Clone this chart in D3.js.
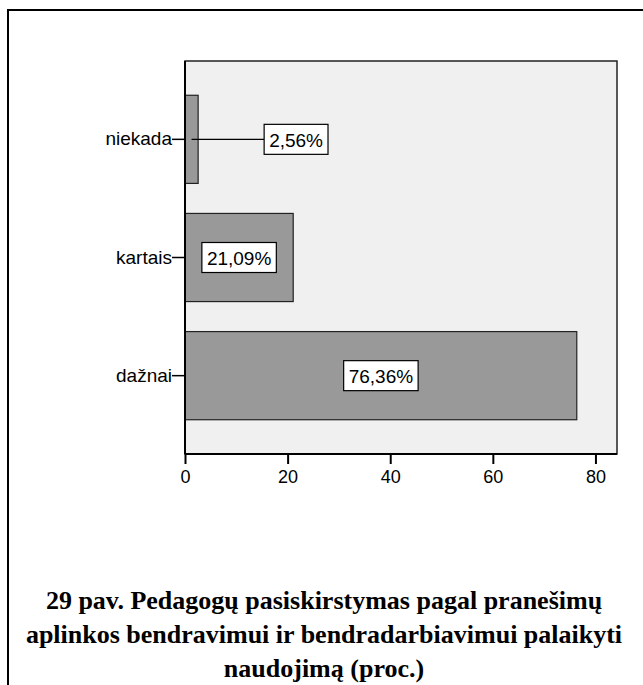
<!DOCTYPE html>
<html>
<head>
<meta charset="utf-8">
<script src="https://cdn.jsdelivr.net/npm/d3@7"></script>
<style>
  body { margin: 0; background: #fff; }
</style>
</head>
<body>
<div class="chart-container"></div>
<script>
// Duomenys
const categories = ['niekada', 'kartais', 'dažnai'];
const values = [2.56, 21.09, 76.36];
const labels = ['2,56%', '21,09%', '76,36%'];
const xTicks = [0, 20, 40, 60, 80];
const titleLines = [
  '29 pav. Pedagogų pasiskirstymas pagal pranešimų',
  'aplinkos bendravimui ir bendradarbiavimui palaikyti',
  'naudojimą (proc.)'
];

const width = 643;
const height = 685;
const plot = { left: 185, top: 61, right: 617, bottom: 454 };

const svg = d3.select('.chart-container')
  .append('svg')
  .attr('width', width)
  .attr('height', height)
  .attr('font-family', 'Liberation Sans, Arial, sans-serif');

// išorinis rėmelis (dešinė ir apačia už lango ribų)
svg.append('rect')
  .attr('x', 8).attr('y', 10)
  .attr('width', 700).attr('height', 700)
  .attr('fill', 'none')
  .attr('stroke', '#000')
  .attr('stroke-width', 2);

const x = d3.scaleLinear()
  .domain([0, 84.2])
  .range([plot.left, plot.right]);

const y = d3.scaleBand()
  .domain(categories)
  .range([plot.top, plot.bottom])
  .paddingInner(0.254)
  .paddingOuter(0.29);

// grafiko fonas
svg.append('rect')
  .attr('x', plot.left).attr('y', plot.top)
  .attr('width', plot.right - plot.left)
  .attr('height', plot.bottom - plot.top)
  .attr('fill', '#f0f0f0')
  .attr('stroke', '#222')
  .attr('stroke-width', 1.5);

const rows = categories.map((c, i) => ({ cat: c, value: values[i], label: labels[i] }));

// stulpeliai
svg.selectAll('rect.bar')
  .data(rows)
  .join('rect')
    .attr('class', 'bar')
    .attr('x', x(0))
    .attr('y', d => y(d.cat))
    .attr('width', d => x(d.value) - x(0))
    .attr('height', y.bandwidth())
    .attr('fill', '#999999')
    .attr('stroke', '#222')
    .attr('stroke-width', 1.2);

// ašys
const xAxis = svg.append('g')
  .attr('transform', `translate(0,${plot.bottom})`)
  .call(d3.axisBottom(x).tickValues(xTicks).tickSize(10).tickSizeOuter(0));
xAxis.select('.domain').remove();
xAxis.selectAll('line').attr('stroke', '#000').attr('stroke-width', 2);
xAxis.selectAll('text')
  .attr('font-size', '18px')
  .attr('font-family', 'Liberation Sans, Arial, sans-serif')
  .attr('fill', '#000')
  .attr('dy', '0.9em');

const yAxis = svg.append('g')
  .attr('transform', `translate(${plot.left},0)`)
  .call(d3.axisLeft(y).tickSize(13).tickSizeOuter(0));
yAxis.select('.domain').remove();
yAxis.selectAll('line').attr('stroke', '#000').attr('stroke-width', 1.5);
yAxis.selectAll('text')
  .attr('x', -13)
  .attr('font-size', '19px')
  .attr('font-family', 'Liberation Sans, Arial, sans-serif')
  .attr('fill', '#000');

// ašių linijos
svg.append('line')
  .attr('x1', plot.left).attr('x2', plot.right)
  .attr('y1', plot.bottom).attr('y2', plot.bottom)
  .attr('stroke', '#000').attr('stroke-width', 2);
svg.append('line')
  .attr('x1', plot.left).attr('x2', plot.left)
  .attr('y1', plot.top).attr('y2', plot.bottom)
  .attr('stroke', '#000').attr('stroke-width', 2);

// reikšmių etiketės
const lab = svg.selectAll('g.lab')
  .data(rows)
  .join('g')
    .attr('class', 'lab');

lab.each(function(d) {
  const g = d3.select(this);
  const cy = y(d.cat) + y.bandwidth() / 2;
  const barMid = (x(0) + x(d.value)) / 2;
  const inside = d.value > 10;
  const txt = g.append('text')
    .attr('font-size', '19px')
    .attr('dominant-baseline', 'central')
    .attr('text-anchor', 'middle')
    .text(d.label);
  const w = txt.node().getComputedTextLength() + 10;
  const cx = inside ? barMid : x(d.value) + 66 + w / 2;
  if (!inside) {
    g.insert('line', 'text')
      .attr('x1', barMid).attr('x2', cx - w / 2)
      .attr('y1', cy).attr('y2', cy)
      .attr('stroke', '#000').attr('stroke-width', 1.2);
  }
  g.insert('rect', 'text')
    .attr('x', cx - w / 2).attr('y', cy - 15)
    .attr('width', w).attr('height', 30)
    .attr('fill', '#fff')
    .attr('stroke', '#000')
    .attr('stroke-width', 1.2);
  txt.attr('x', cx).attr('y', cy + 1);
});

// pavadinimas
svg.append('g')
  .selectAll('text')
  .data(titleLines)
  .join('text')
    .attr('x', 324)
    .attr('y', (d, i) => 609 + i * 34)
    .attr('text-anchor', 'middle')
    .attr('font-family', 'Liberation Serif, Times New Roman, serif')
    .attr('font-weight', 'bold')
    .attr('font-size', '26px')
    .attr('fill', '#000')
    .text(d => d);
</script>
</body>
</html>
